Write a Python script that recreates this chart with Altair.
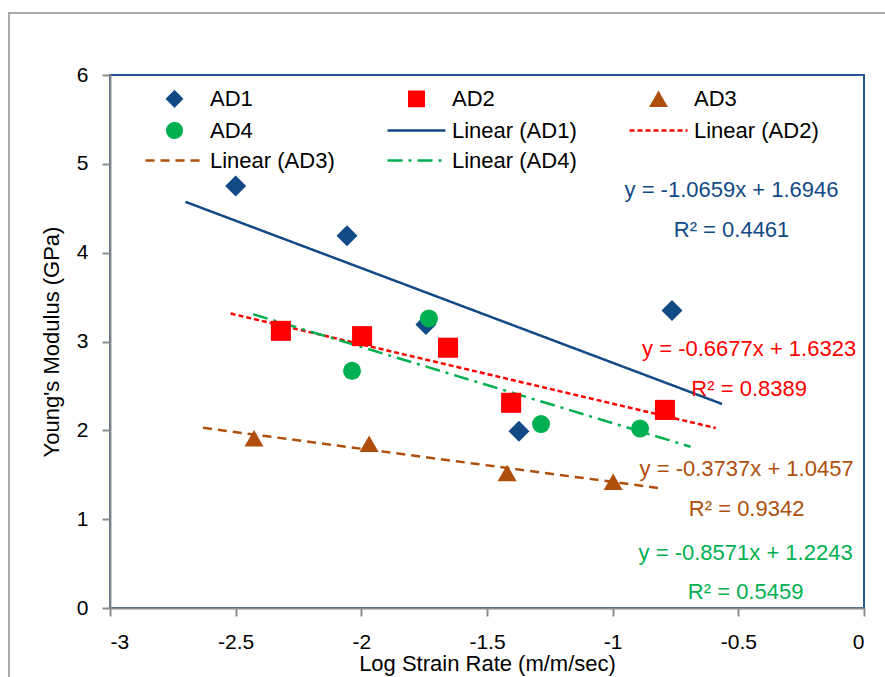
import altair as alt
import pandas as pd

# ---------------- data ----------------
ad1_x = [-2.500, -2.057, -1.743, -1.373, -0.764]
ad1_y = [4.75, 4.19, 3.19, 1.99, 3.35]
ad2_x = [-2.320, -1.997, -1.655, -1.404, -0.792]
ad2_y = [3.12, 3.06, 2.93, 2.31, 2.23]
ad3_x = [-2.427, -1.969, -1.420, -0.998]
ad3_y = [1.91, 1.85, 1.52, 1.42]
ad4_x = [-2.037, -1.731, -1.285, -0.891]
ad4_y = [2.67, 3.26, 2.07, 2.02]

series_names = ["AD1", "AD2", "AD3", "AD4"]
trend_names = ["Linear (AD1)", "Linear (AD2)", "Linear (AD3)", "Linear (AD4)"]
slopes = [-1.0659, -0.6677, -0.3737, -0.8571]
intercepts = [1.6946, 1.6323, 1.0457, 1.2243]
trend_x0 = [-2.70, -2.52, -2.63, -2.43]
trend_x1 = [-0.565, -0.59, -0.80, -0.69]

eq_labels = ["y = -1.0659x + 1.6946", "y = -0.6677x + 1.6323",
             "y = -0.3737x + 1.0457", "y = -0.8571x + 1.2243"]
r2_labels = ["R² = 0.4461", "R² = 0.8389", "R² = 0.9342", "R² = 0.5459"]
label_x = [-0.527, -0.457, -0.467, -0.471]
eq_label_y = [4.70, 2.92, 1.56, 0.62]
r2_label_y = [4.26, 2.47, 1.12, 0.18]

x_ticks = [-3, -2.5, -2, -1.5, -1, -0.5, 0]
y_ticks = [0, 1, 2, 3, 4, 5, 6]

# ---------------- styles ----------------
C1, C2, C3, C4 = "#114A85", "#FF0000", "#AF4F0B", "#00B050"
series_colors = [C1, C2, C3, C4]
FONT = "Liberation Sans"
LINE = "M-4,0H4"
legend_domain = series_names + trend_names
legend_colors = series_colors + series_colors
legend_shapes = ["diamond", "square", "triangle-up", "circle", LINE, LINE, LINE, LINE]
legend_dashes = [[1, 0], [1, 0], [1, 0], [1, 0], [1, 0], [5, 3], [9, 6], [15, 6, 3, 6]]
marker_sizes = [441, 324, 324, 324]

# ---------------- tables ----------------
xs = [ad1_x, ad2_x, ad3_x, ad4_x]
ys = [ad1_y, ad2_y, ad3_y, ad4_y]
pts = pd.DataFrame([
    {"x": x, "y": y, "series": s}
    for s, xl, yl in zip(series_names, xs, ys) for x, y in zip(xl, yl)
])
trend = pd.DataFrame([
    {"x": x, "y": m * x + b, "series": n}
    for n, m, b, x0, x1 in zip(trend_names, slopes, intercepts, trend_x0, trend_x1)
    for x in (x0, x1)
])
ann = pd.DataFrame(
    [{"x": lx, "y": ey, "text": e, "k": i} for i, (lx, ey, e) in enumerate(zip(label_x, eq_label_y, eq_labels))]
    + [{"x": lx, "y": ry, "text": r, "k": i} for i, (lx, ry, r) in enumerate(zip(label_x, r2_label_y, r2_labels))]
)

# ---------------- encodings ----------------
x_axis = alt.Axis(values=x_ticks, labelExpr="datum.value + ''", title="Log Strain Rate (m/m/sec)",
                  tickSize=8, labelPadding=15, titlePadding=1)
y_axis = alt.Axis(values=y_ticks, labelExpr="datum.value + ''", title="Young's Modulus (GPa)",
                  tickSize=8, labelPadding=14, titlePadding=13)
X = alt.X("x:Q", scale=alt.Scale(domain=[-3, 0], nice=False, zero=False), axis=x_axis)
Y = alt.Y("y:Q", scale=alt.Scale(domain=[0, 6], nice=False, zero=False), axis=y_axis)

leg = alt.Legend(title=None, orient="none", legendX=53.5, legendY=12.5, columns=3,
                 direction="horizontal",
                 symbolSize=210, symbolStrokeWidth=2.5, symbolFillColor="transparent",
                 symbolOpacity=1, labelOffset=24.5, columnPadding=47, rowPadding=6,
                 labelFont=FONT, labelFontSize=22, labelColor="black", labelLimit=400,
                 padding=0)
color = alt.Color("series:N", scale=alt.Scale(domain=legend_domain, range=legend_colors), legend=leg)

frame = alt.Chart(pd.DataFrame({"d": [0]})).mark_rect(
    fillOpacity=0, stroke="#A8A8A8", strokeWidth=2
).encode(x=alt.value(-101), x2=alt.value(820), y=alt.value(-62), y2=alt.value(660))

lines = alt.Chart(trend).mark_line(strokeWidth=2.5).encode(
    x=X, y=Y, color=color,
    strokeDash=alt.StrokeDash("series:N", scale=alt.Scale(domain=legend_domain, range=legend_dashes), legend=leg),
)

points = alt.Chart(pts).mark_point(filled=True, opacity=1).encode(
    x=X, y=Y, color=color,
    shape=alt.Shape("series:N", scale=alt.Scale(domain=legend_domain, range=legend_shapes), legend=leg),
    size=alt.Size("series:N", scale=alt.Scale(domain=series_names, range=marker_sizes), legend=None),
)

texts = [
    alt.Chart(ann[ann["k"] == i]).mark_text(font=FONT, fontSize=22, align="center",
                                            baseline="middle", color=c).encode(x=X, y=Y, text="text:N")
    for i, c in enumerate(series_colors)
]

chart = alt.layer(frame, lines, points, *texts).properties(
    width=754, height=533,
    autosize=alt.AutoSizeParams(type="none"),
    padding={"left": 110, "top": 75, "right": 21, "bottom": 69},
    background="white",
).configure_view(
    stroke="#24568F", strokeWidth=2
).configure_axis(
    grid=False, domainColor="#8C8C8C", domainWidth=2, tickColor="#8C8C8C", tickWidth=2,
    labelFont=FONT, labelFontSize=21, labelColor="black",
    titleFont=FONT, titleFontSize=22, titleFontWeight="normal", titleColor="black",
)

chart.save("out.html", embed_options={"renderer": "svg", "actions": False})
